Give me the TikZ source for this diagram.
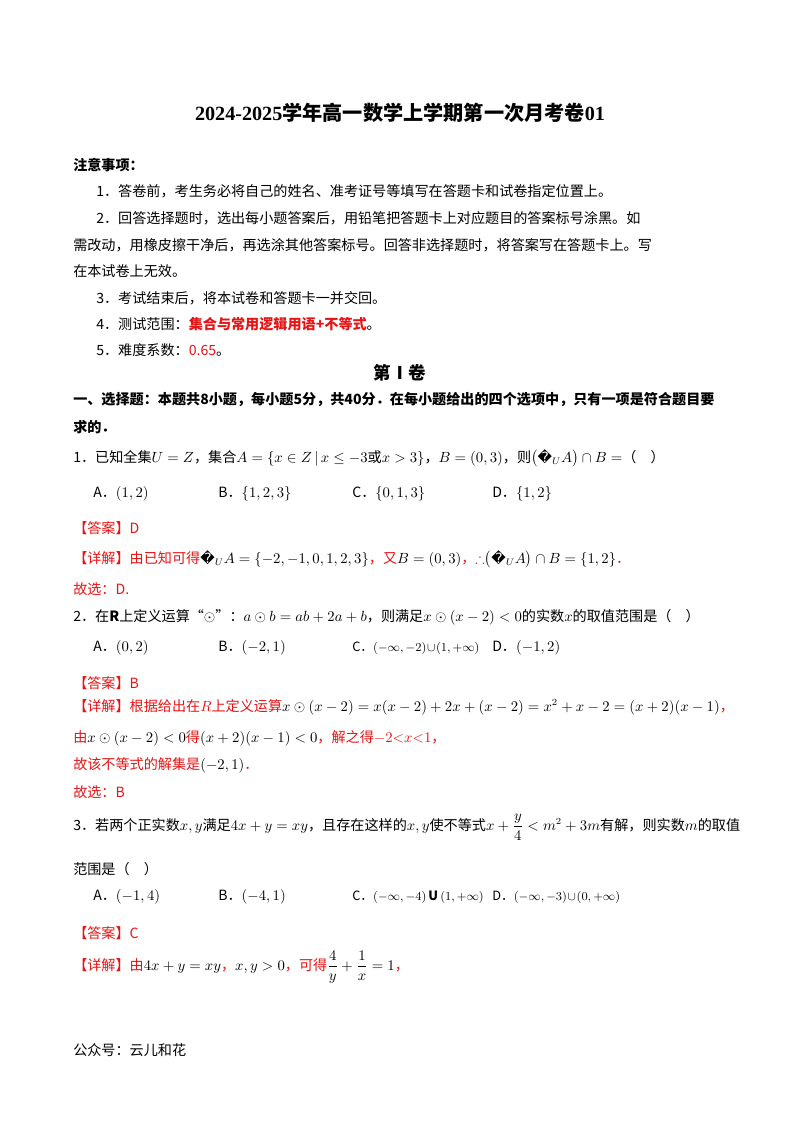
\documentclass[tikz,border=0pt]{standalone}
\usepackage{fontspec}
\usepackage{amsmath,amssymb}
\setmainfont{Noto Sans CJK SC}
\newfontfamily\dv{DejaVu Sans}
\newfontfamily\tnr{Liberation Serif}
\definecolor{ansred}{RGB}{230,20,20}
\newcommand{\repl}{{\dv\char"FFFD}}
\newcommand{\tightmath}{\medmuskip=1mu\relax\thickmuskip=1mu\relax}
\begin{document}
\begin{tikzpicture}[x=0.744pt,y=-0.744pt,
  t/.style={anchor=west,inner sep=0pt,font=\fontsize{10.5}{12}\selectfont},
  tc/.style={t,font=\fontsize{9.5}{11}\selectfont},
  r/.style={t,text=ansred}]
\useasboundingbox[fill=white] (0,0) rectangle (800,1132);
\node[inner sep=0pt,font=\fontsize{15}{18}\selectfont\bfseries] (title) at (400,113) {{\tnr\bfseries 2024-2025}学年高一数学上学期第一次月考卷{\tnr\bfseries 01}};
\node[t,font=\fontsize{10.5}{12}\selectfont\bfseries] (n0) at (73,165) {注意事项：};
\node[t] (n1) at (96,191) {1．答卷前，考生务必将自己的姓名、准考证号等填写在答题卡和试卷指定位置上。};
\node[t] (n2) at (96,218) {2．回答选择题时，选出每小题答案后，用铅笔把答题卡上对应题目的答案标号涂黑。如};
\node[t] (n2b) at (73,245) {需改动，用橡皮擦干净后，再选涂其他答案标号。回答非选择题时，将答案写在答题卡上。写};
\node[t] (n2c) at (73,271) {在本试卷上无效。};
\node[t] (n3) at (96,298) {3．考试结束后，将本试卷和答题卡一并交回。};
\node[t] (n4) at (96,324) {4．测试范围：\textcolor{ansred}{\bfseries 集合与常用逻辑用语+不等式}。};
\node[t] (n5) at (96,350) {5．难度系数：\textcolor{ansred}{0.65}。};
\node[inner sep=0pt,font=\fontsize{13}{15}\selectfont\bfseries] (juan) at (400,373) {第Ⅰ卷};
\node[t,font=\fontsize{10.5}{12}\selectfont\bfseries] (s1) at (73,400) {一、选择题：本题共8小题，每小题5分，共40分．在每小题给出的四个选项中，只有一项是符合题目要};
\node[t,font=\fontsize{10.5}{12}\selectfont\bfseries] (s1b) at (73,427) {求的．};
\node[t] (q1) at (73,458) {1．已知全集$U=Z$，集合$A=\left\{x\in Z\,\middle|\,x\le-3\text{或}x>3\right\}$，$B=\left(0,3\right)$，则$\left(\text{\repl}_{U}A\right)\cap B=$（\quad ）};
\node[t] (q1a) at (93,494) {A．$\left(1,2\right)$};
\node[t] (q1b) at (218,494) {B．$\left\{1,2,3\right\}$};
\node[t] (q1c) at (352,494) {C．$\left\{0,1,3\right\}$};
\node[t] (q1d) at (492,494) {D．$\left\{1,2\right\}$};
\node[r] (a1) at (73,528) {【答案】D};
\node[r] (d1) at (73,559) {【详解】由已知可得\textcolor{black}{$\text{\repl}_{U}A=\left\{-2,-1,0,1,2,3\right\}$}，又\textcolor{black}{$B=\left(0,3\right)$}，$\therefore$\textcolor{black}{$\left(\text{\repl}_{U}A\right)\cap B=\left\{1,2\right\}$}．};
\node[r] (g1) at (73,589) {故选：D.};
\node[t] (q2) at (73,617) {2．在$\mathbf{R}$上定义运算“$\odot$”：$a\odot b=ab+2a+b$，则满足$x\odot(x-2)<0$的实数$x$的取值范围是（\quad ）};
\node[t] (q2a) at (93,648) {A．$(0,2)$};
\node[t] (q2b) at (218,648) {B．$(-2,1)$};
\node[tc] (q2c) at (352,648) {\tightmath C．$(-\infty,-2)\cup(1,+\infty)$};
\node[t] (q2d) at (492,648) {D．$(-1,2)$};
\node[r] (a2) at (73,683) {【答案】B};
\node[r] (d2) at (73,707) {【详解】根据给出在$R$上定义运算\textcolor{black}{$x\odot(x-2)=x(x-2)+2x+(x-2)=x^{2}+x-2=(x+2)(x-1)$}，};
\node[r] (d2b) at (73,738) {由\textcolor{black}{$x\odot(x-2)<0$}得\textcolor{black}{$(x+2)(x-1)<0$}，解之得$-2{<}x{<}1$，};
\node[r] (d2c) at (73,765) {故该不等式的解集是\textcolor{black}{$(-2,1)$}．};
\node[r] (g2) at (73,792) {故选：B};
\node[t] (q3) at (73,827) {3．若两个正实数$x,y$满足$4x+y=xy$，且存在这样的$x,y$使不等式$x+\dfrac{y}{4}<m^{2}+3m$有解，则实数$m$的取值};
\node[t] (q3b) at (73,869) {范围是（\quad ）};
\node[t] (q3a) at (93,897) {A．$\left(-1,4\right)$};
\node[t] (q3bb) at (218,897) {B．$(-4,1)$};
\node[tc] (q3c) at (352,897) {\tightmath C．$\left(-\infty,-4\right)\mathbf{U}\left(1,+\infty\right)$};
\node[tc] (q3d) at (492,897) {\tightmath D．$\left(-\infty,-3\right)\cup\left(0,+\infty\right)$};
\node[r] (a3) at (73,933) {【答案】C};
\node[r] (d3) at (73,967) {【详解】由\textcolor{black}{$4x+y=xy$}，\textcolor{black}{$x,y>0$}，可得\textcolor{black}{$\dfrac{4}{y}+\dfrac{1}{x}=1$}，};
\node[t] (foot) at (73,1050) {公众号：云儿和花};
\end{tikzpicture}
\end{document}
